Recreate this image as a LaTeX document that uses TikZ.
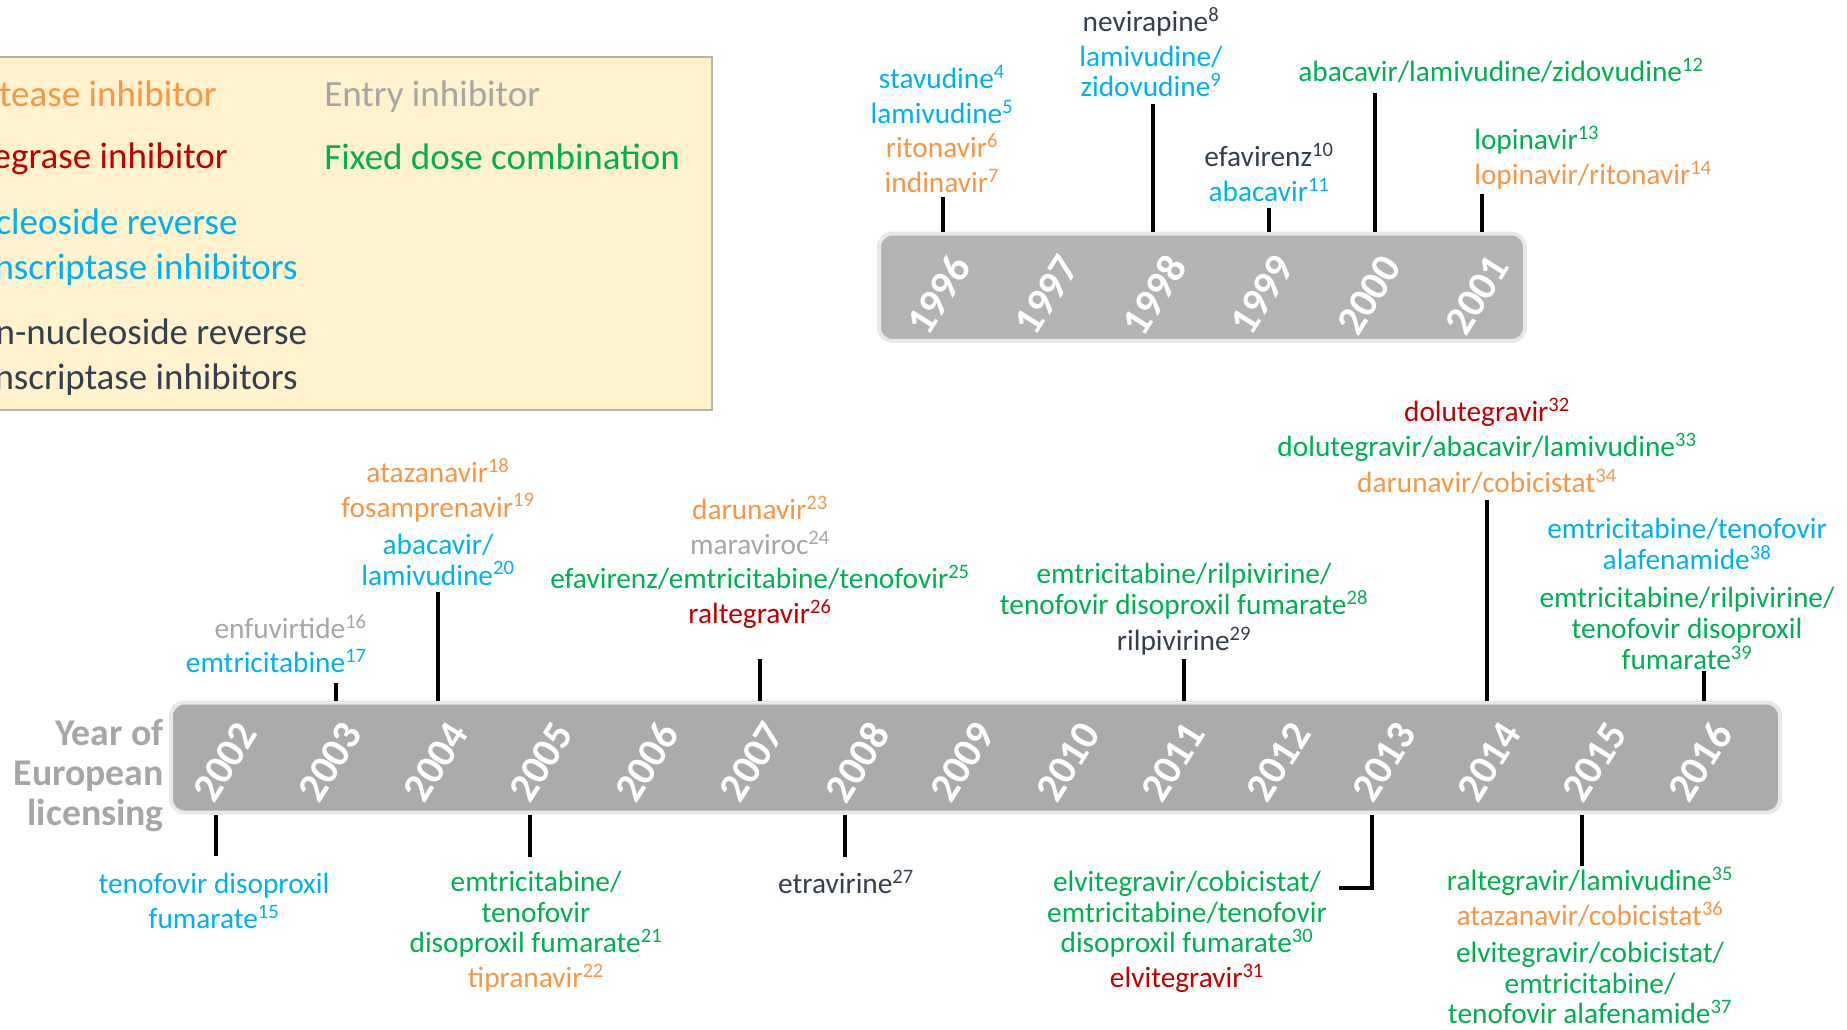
\documentclass[tikz,border=0pt]{standalone}
\usepackage{fontspec}
\setmainfont{Carlito}
\usepackage{tikz}

\definecolor{protease}{HTML}{F79646}
\definecolor{integrase}{HTML}{C00000}
\definecolor{nrti}{HTML}{00B0F0}
\definecolor{nnrti}{HTML}{333F4F}
\definecolor{entry}{HTML}{A6A6A6}
\definecolor{fdc}{HTML}{00B050}
\definecolor{legendfill}{HTML}{FFF2CC}
\definecolor{legendrim}{HTML}{B4B4B4}
\definecolor{barlow}{HTML}{ABABAB}
\definecolor{barhigh}{HTML}{B3B3B3}
\definecolor{barrim}{HTML}{E8E8E8}

\newcommand{\keyfont}{\fontsize{27.75}{33.75}\selectfont}
\newcommand{\drugfont}{\fontsize{22}{23}\selectfont}
\newcommand{\yearfont}{\bfseries\fontsize{31}{34}\selectfont}
\newcommand{\capfont}{\bfseries\fontsize{28.3}{30}\selectfont}
\newcommand{\refno}[1]{\textsuperscript{#1}}

\begin{document}
\begin{tikzpicture}[
  x=0.75pt,y=-0.75pt,
  key/.style={anchor=west,align=left,font=\keyfont,inner sep=3pt},
  legend/.style={draw=legendrim,line width=1.5pt,fill=legendfill},
  bar/.style={draw=barrim,line width=3pt,rounded corners=10pt},
  year/.style={text=white,font=\yearfont,rotate=58,inner sep=0pt},
  drugs/.style={align=center,font=\drugfont,inner sep=3pt},
  tick/.style={line width=3pt}]

  \useasboundingbox (0,0) rectangle (1847,1029);

  % Legend
  \draw[legend] (-20,57) rectangle (712,410);
  \node[key,text=protease] (kpi) at (-56,94) {Protease inhibitor};
  \node[key,text=integrase] (kii) at (-52,159) {Integrase inhibitor};
  \node[key,text=nrti] (knrti) at (-52,247) {Nucleoside reverse\\transcriptase inhibitors};
  \node[key,text=nnrti] (knnrti) at (-52,357) {Non-nucleoside reverse\\transcriptase inhibitors};
  \node[key,text=entry] (kei) at (320,97) {Entry inhibitor};
  \node[key,text=fdc] (kfdc) at (320,157) {Fixed dose combination};

  % The two time bars and their years
  \node[bar,fill=barhigh,minimum width=484.5pt,minimum height=80.6pt] (upper) at (1202,287.25) {};
  \node[bar,fill=barlow,minimum width=1206.75pt,minimum height=82.5pt] (lower) at (975.5,757.5) {};
  \foreach \yr in {1996,...,2001}
    \node[year] (y\yr) at ({939+107.6*(\yr-1996)},295) {\yr};
  \foreach \yr in {2002,...,2016}
    \node[year] (y\yr) at ({225+105.36*(\yr-2002)},762) {\yr};

  \node[align=right,anchor=east,text=entry,font=\capfont,inner sep=3pt] (caption) at (168,776) {Year of\\European\\licensing};

  % Drugs licensed 1996-2001
  \node[drugs,anchor=north] (s1996) at (942,61) {\textcolor{nrti}{stavudine\refno{4}}\\[3pt]\textcolor{nrti}{lamivudine\refno{5}}\\[3pt]\textcolor{protease}{ritonavir\refno{6}}\\[3pt]\textcolor{protease}{indinavir\refno{7}}};
  \node[drugs,anchor=north] (s1998) at (1151,3) {\textcolor{nnrti}{nevirapine\refno{8}}\\[3pt]\textcolor{nrti}{lamivudine/}\\\textcolor{nrti}{zidovudine\refno{9}}};
  \node[drugs,anchor=north] (s1999) at (1269,139) {\textcolor{nnrti}{efavirenz\refno{10}}\\[3pt]\textcolor{nrti}{abacavir\refno{11}}};
  \node[drugs,anchor=north,text=fdc] (s2000) at (1501,54) {abacavir/lamivudine/zidovudine\refno{12}};
  \node[drugs,anchor=north west,align=left] (s2001) at (1470,122) {\textcolor{fdc}{lopinavir\refno{13}}\\[3pt]\textcolor{protease}{lopinavir/ritonavir\refno{14}}};

  % Drugs licensed 2002-2016, above the bar
  \node[drugs,anchor=north east,align=right] (s2003) at (371,610) {\textcolor{entry}{enfuvirtide\refno{16}}\\[3pt]\textcolor{nrti}{emtricitabine\refno{17}}};
  \node[drugs,anchor=north] (s2004) at (438,454) {\textcolor{protease}{atazanavir\refno{18}}\\[3pt]\textcolor{protease}{fosamprenavir\refno{19}}\\[5pt]\textcolor{nrti}{abacavir/}\\\textcolor{nrti}{lamivudine\refno{20}}};
  \node[drugs,anchor=north] (s2007) at (760,492) {\textcolor{protease}{darunavir\refno{23}}\\[3pt]\textcolor{entry}{maraviroc\refno{24}}\\[3pt]\textcolor{fdc}{efavirenz/emtricitabine/tenofovir\refno{25}}\\[3pt]\textcolor{integrase}{raltegravir\refno{26}}};
  \node[drugs,anchor=north] (s2011) at (1184,559) {\textcolor{fdc}{emtricitabine/rilpivirine/}\\\textcolor{fdc}{tenofovir disoproxil fumarate\refno{28}}\\[4pt]\textcolor{nnrti}{rilpivirine\refno{29}}};
  \node[drugs,anchor=north] (s2014) at (1487,394) {\textcolor{integrase}{dolutegravir\refno{32}}\\[3pt]\textcolor{fdc}{dolutegravir/abacavir/lamivudine\refno{33}}\\[4pt]\textcolor{protease}{darunavir/cobicistat\refno{34}}};
  \node[drugs,anchor=north] (s2016) at (1687,514) {\textcolor{nrti}{emtricitabine/tenofovir}\\\textcolor{nrti}{alafenamide\refno{38}}\\[6pt]\textcolor{fdc}{emtricitabine/rilpivirine/}\\\textcolor{fdc}{tenofovir disoproxil}\\\textcolor{fdc}{fumarate\refno{39}}};

  % Drugs licensed 2002-2016, below the bar
  \node[drugs,anchor=north,text=nrti] (s2002) at (214,869) {tenofovir disoproxil\\[3pt]fumarate\refno{15}};
  \node[drugs,anchor=north] (s2005) at (536,867) {\textcolor{fdc}{emtricitabine/}\\\textcolor{fdc}{tenofovir}\\\textcolor{fdc}{disoproxil fumarate\refno{21}}\\[3pt]\textcolor{protease}{tipranavir\refno{22}}};
  \node[drugs,anchor=north,text=nnrti] (s2008) at (846,866) {etravirine\refno{27}};
  \node[drugs,anchor=north] (s2013) at (1187,867) {\textcolor{fdc}{elvitegravir/cobicistat/}\\\textcolor{fdc}{emtricitabine/tenofovir}\\\textcolor{fdc}{disoproxil fumarate\refno{30}}\\[3pt]\textcolor{integrase}{elvitegravir\refno{31}}};
  \node[drugs,anchor=north] (s2015) at (1590,863) {\textcolor{fdc}{raltegravir/lamivudine\refno{35}}\\[3pt]\textcolor{protease}{atazanavir/cobicistat\refno{36}}\\[5pt]\textcolor{fdc}{elvitegravir/cobicistat/}\\\textcolor{fdc}{emtricitabine/}\\\textcolor{fdc}{tenofovir alafenamide\refno{37}}};

  % Ticks from the labels to the bars
  \foreach \yr/\x/\y in {1996/943/197,1998/1153/104,1999/1269/208,2000/1375/93,2001/1482/194}{
    \coordinate (t\yr) at (\x,\y);
    \draw[tick] (t\yr) -- (t\yr |- upper.north);
  }
  \foreach \yr/\x/\y in {2003/336/683,2004/438/592,2007/760/659,2011/1184/659,2014/1487/500,2016/1704/671}{
    \coordinate (t\yr) at (\x,\y);
    \draw[tick] (t\yr) -- (t\yr |- lower.north);
  }
  \foreach \yr/\x/\y in {2002/216/856,2005/530/857,2008/845/857,2015/1582/866}{
    \coordinate (t\yr) at (\x,\y);
    \draw[tick] (t\yr) -- (t\yr |- lower.south);
  }
  \coordinate (t2013) at (1339,888);
  \coordinate (e2013) at (1372,888);
  \draw[tick] (t2013) -- (e2013) -- (e2013 |- lower.south);
\end{tikzpicture}
\end{document}
